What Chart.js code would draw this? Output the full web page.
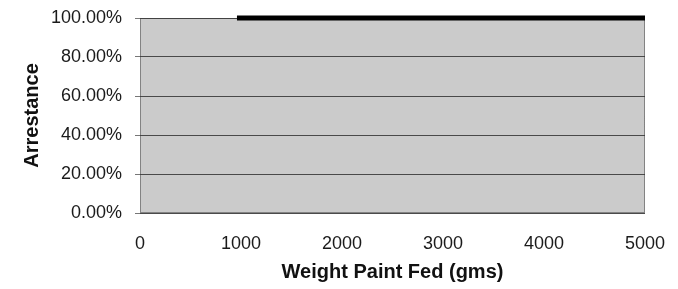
<!DOCTYPE html>
<html>
<head>
<meta charset="utf-8">
<script src="https://cdn.jsdelivr.net/npm/chart.js@4/dist/chart.umd.min.js"></script>
<style>
html,body{margin:0;padding:0;background:#fff;}
#wrap{width:678px;height:289px;}
</style>
</head>
<body>
<div id="wrap"><canvas id="c" width="678" height="289"></canvas></div>
<script>
// Data
const weightFed = [960, 5000];
const arrestance = [1.0, 1.0];
const yTicks = [0, 0.2, 0.4, 0.6, 0.8, 1.0];
const xTicks = [0, 1000, 2000, 3000, 4000, 5000];
const xTitle = 'Weight Paint Fed (gms)';
const yTitle = 'Arrestance';

const points = weightFed.map((x, i) => ({x: x, y: arrestance[i]}));

const plotBg = {
  id: 'plotBg',
  beforeDraw(chart) {
    const {ctx, chartArea: a} = chart;
    ctx.save();
    ctx.fillStyle = '#cbcbcb';
    ctx.fillRect(a.left, a.top, a.right - a.left, a.bottom - a.top);
    ctx.restore();
  },
  beforeDatasetsDraw(chart) {
    const {ctx, chartArea: a} = chart;
    ctx.save();
    ctx.strokeStyle = '#3a3a3a';
    ctx.lineWidth = 1;
    ctx.setLineDash([1, 1]);
    ctx.strokeRect(a.left + 0.5, a.top + 0.5, a.right - a.left - 1, a.bottom - a.top - 1);
    ctx.restore();
  }
};

new Chart(document.getElementById('c'), {
  type: 'scatter',
  data: {
    datasets: [{
      data: points,
      showLine: true,
      borderColor: '#000',
      backgroundColor: '#000',
      borderWidth: 5,
      pointRadius: 0,
      clip: false
    }]
  },
  plugins: [plotBg],
  options: {
    responsive: false,
    animation: false,
    layout: {padding: {left: 0, right: 33, top: 18, bottom: 0}},
    plugins: {legend: {display: false}, tooltip: {enabled: false}},
    scales: {
      x: {
        type: 'linear',
        min: 0, max: 5000,
        afterBuildTicks(scale) { scale.ticks = xTicks.map(v => ({value: v})); },
        afterFit(scale) { scale.height = 76; scale.paddingLeft = 0; scale.paddingRight = 0; },
        grid: {display: false, drawTicks: false},
        border: {display: false},
        ticks: {
          color: '#1a1a1a',
          padding: 20,
          maxRotation: 0,
          font: {family: '"Liberation Sans", Arial, sans-serif', size: 18},
          callback: v => String(v)
        },
        title: {
          display: true, text: xTitle, color: '#111',
          padding: {top: 0, bottom: 5},
          font: {family: '"Liberation Sans", Arial, sans-serif', size: 20, weight: 'bold'}
        }
      },
      y: {
        min: 0, max: 1,
        afterBuildTicks(scale) { scale.ticks = yTicks.map(v => ({value: v})); },
        afterFit(scale) { scale.width = 140; scale.paddingTop = 0; scale.paddingBottom = 0; },
        grid: {color: '#4a4a4a', lineWidth: 1, drawTicks: true, tickLength: 5, tickColor: '#777'},
        border: {display: false},
        ticks: {
          color: '#1a1a1a',
          padding: 13,
          font: {family: '"Liberation Sans", Arial, sans-serif', size: 18},
          callback: v => (v * 100).toFixed(2) + '%'
        },
        title: {
          display: true, text: yTitle, color: '#111',
          padding: {top: 20, bottom: 0},
          font: {family: '"Liberation Sans", Arial, sans-serif', size: 20, weight: 'bold'}
        }
      }
    }
  }
});
</script>
</body>
</html>
